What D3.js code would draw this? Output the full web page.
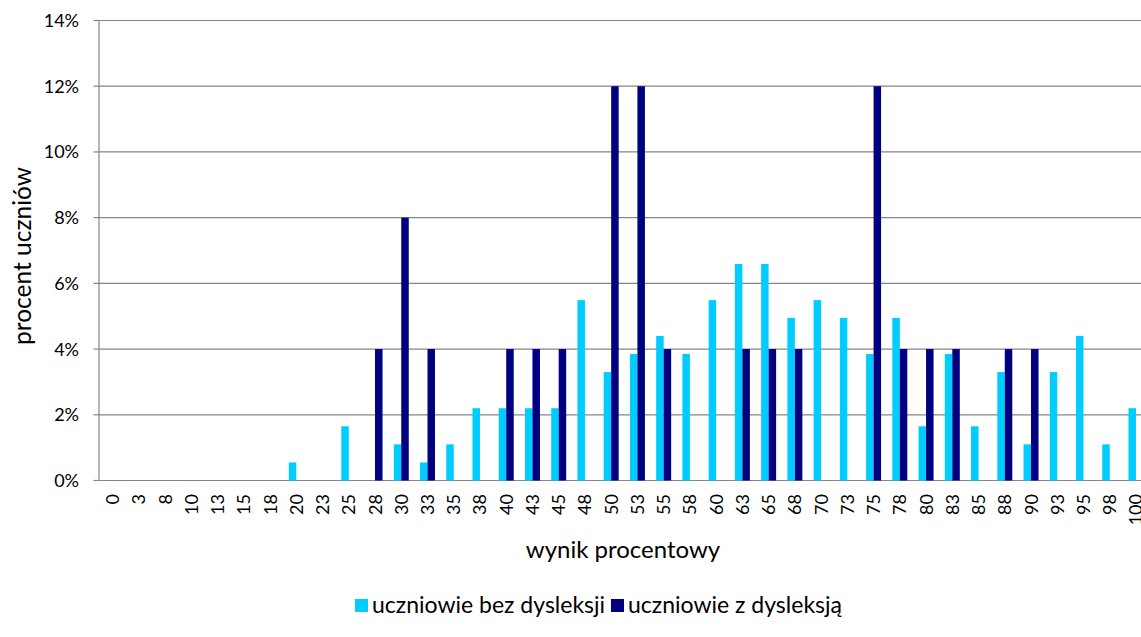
<!DOCTYPE html>
<html><head><meta charset="utf-8">
<script src="https://cdn.jsdelivr.net/npm/d3@7"></script>
<style>
body{margin:0;background:#fff}
svg{display:block}
text{font-family:Lato, "Open Sans", sans-serif; fill:#000}
</style>
</head><body>
<svg id="c" width="1141" height="637"></svg>
<script>
const categories = ["0","3","8","10","13","15","18","20","23","25","28","30","33","35","38","40","43","45","48","50","53","55","58","60","63","65","68","70","73","75","78","80","83","85","88","90","93","95","98","100"];
const withoutDyslexia = [0,0,0,0,0,0,0,0.55,0,1.65,0,1.10,0.55,1.10,2.20,2.20,2.20,2.20,5.49,3.30,3.85,4.40,3.85,5.49,6.59,6.59,4.95,5.49,4.95,3.85,4.95,1.65,3.85,1.65,3.30,1.10,3.30,4.40,1.10,2.20];
const withDyslexia    = [0,0,0,0,0,0,0,0,0,0,4,8,4,0,0,4,4,4,0,12,12,4,0,0,4,4,4,0,0,12,4,4,4,0,4,4,0,0,0,0];
const yTicks = [0,2,4,6,8,10,12,14];
const seriesNames = ["uczniowie bez dysleksji","uczniowie z dysleksją"];
const xTitle = "wynik procentowy";
const yTitle = "procent uczniów";

const colors = ["#00CCFF","#000080"];
const svg = d3.select("#c");
const x = d3.scaleBand().domain(categories).range([99.5, 1149.1]).padding(0);
const y = d3.scaleLinear().domain([0,14]).range([480.5, 20.5]);
const bw = x.bandwidth();
const barW = bw/3.5;

// gridlines
svg.append("g").selectAll("line").data(yTicks).join("line")
  .attr("x1",99).attr("x2",1141)
  .attr("y1",d=>y(d)).attr("y2",d=>y(d))
  .attr("stroke","#868686").attr("stroke-width",1.2);

// y axis line and ticks
svg.append("line").attr("x1",99).attr("x2",99).attr("y1",y(14)).attr("y2",y(0))
  .attr("stroke","#868686").attr("stroke-width",1.2);
svg.append("g").selectAll("line").data(yTicks).join("line")
  .attr("x1",93.5).attr("x2",99).attr("y1",d=>y(d)).attr("y2",d=>y(d))
  .attr("stroke","#868686").attr("stroke-width",1.2);
svg.append("g").selectAll("text").data(yTicks).join("text")
  .attr("x",79).attr("y",d=>y(d)).attr("dy","0.36em")
  .attr("text-anchor","end").attr("font-size",18)
  .text(d=>d+"%");

// bars
const series = [withoutDyslexia, withDyslexia];
series.forEach((vals,si)=>{
  svg.append("g").selectAll("rect").data(vals.map((v,i)=>({c:categories[i],v}))).join("rect")
    .attr("x",d=>x(d.c)+bw/2 - barW + si*barW)
    .attr("width",barW)
    .attr("y",d=>y(d.v))
    .attr("height",d=>y(0)-y(d.v))
    .attr("fill",colors[si]);
});

// x tick labels
svg.append("g").selectAll("text").data(categories).join("text")
  .attr("transform",d=>`translate(${x(d)+bw/2},494) rotate(-90)`)
  .attr("dy","0.36em").attr("text-anchor","end").attr("font-size",18)
  .text(d=>d);

// titles
svg.append("text").attr("x",623).attr("y",558).attr("text-anchor","middle")
  .attr("font-size",24).text(xTitle);
svg.append("text").attr("transform","translate(31,256) rotate(-90)")
  .attr("text-anchor","middle").attr("font-size",24.5).text(yTitle);

// legend
const legendX = [355, 611];
seriesNames.forEach((n,i)=>{
  svg.append("rect").attr("x",legendX[i]).attr("y",599).attr("width",13).attr("height",13).attr("fill",colors[i]);
  svg.append("text").attr("x",legendX[i]+17).attr("y",613).attr("font-size",23).text(n);
});
</script>
</body></html>
